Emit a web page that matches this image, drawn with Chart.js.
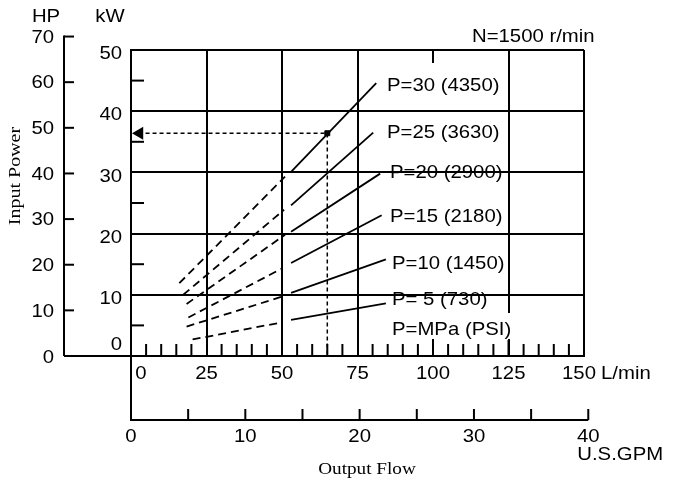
<!DOCTYPE html>
<html><head><meta charset="utf-8">
<script src="https://cdn.jsdelivr.net/npm/chart.js@4"></script>
<style>html,body{margin:0;padding:0;background:#fff}</style>
</head><body>
<canvas id="c" width="676" height="481" style="display:block"></canvas>
<script>
// ---- data ----
const pressureLabels = ['P=30 (4350)','P=25 (3630)','P=20 (2900)','P=15 (2180)','P=10 (1450)','P= 5 (730)'];
const unitLabel = 'P=MPa (PSI)';
const dashedFlow  = [[16,51],[17.3,50.7],[18.4,51],[19,50],[18.4,50],[20.4,50]];
const dashedPower = [[11.9,29.3],[10.0,23.9],[8.5,19.8],[6.3,14.3],[4.8,9.7],[2.7,5.5]];
const solidFlow   = [[53,81.2],[53,80.2],[53,82.5],[53,83],[53,84.4],[53,84.4]];
const solidPower  = [[30.1,44.6],[24.6,36.5],[20.3,29.8],[15.2,23.0],[10.3,15.8],[5.9,8.6]];
const operatingFlow = 65;
const operatingPower = 36.4;
const flowTicks  = [0,25,50,75,100,125,150];
const powerTicks = [0,10,20,30,40,50];
const hpTicks    = [0,10,20,30,40,50,60,70];
const gpmTicks   = [0,5,10,15,20,25,30,35,40];
const gpmLabels  = [0,10,20,30,40];
const HP_TO_KW = 0.7457;
const GPM_TO_LPM = 3.7854;

// ---- datasets ----
const datasets = [];
for (let i = 0; i < pressureLabels.length; i++) {
  datasets.push({
    data: dashedFlow[i].map((f, k) => ({x: f, y: dashedPower[i][k]})),
    borderColor: '#000', borderWidth: 1.8, borderDash: [8, 5], pointRadius: 0, showLine: true
  });
  datasets.push({
    data: solidFlow[i].map((f, k) => ({x: f, y: solidPower[i][k]})),
    borderColor: '#000', borderWidth: 1.8, pointRadius: 0, showLine: true
  });
}
datasets.push({
  data: [{x: 2.5, y: operatingPower}, {x: operatingFlow, y: operatingPower}, {x: operatingFlow, y: 0}],
  borderColor: '#000', borderWidth: 1.5, borderDash: [4, 3], pointRadius: 0, showLine: true
});
datasets.push({
  data: [{x: operatingFlow, y: operatingPower}],
  pointStyle: 'rect', pointRadius: 3.5, backgroundColor: '#000', borderColor: '#000', showLine: false
});
datasets.push({
  data: [{x: 2.8, y: operatingPower}],
  pointStyle: 'triangle', rotation: -90, pointRadius: 5, borderWidth: 2.5, backgroundColor: '#000', borderColor: '#000', showLine: false
});

const SANS = '"Liberation Sans", Arial, sans-serif';
const SERIF = '"Liberation Serif", "Times New Roman", serif';

const extras = {
  id: 'extras',
  afterDraw(chart) {
    const {ctx, scales: {x, y}} = chart;
    ctx.save();
    ctx.strokeStyle = '#000';
    ctx.fillStyle = '#000';
    ctx.lineWidth = 2;
    const line = (x1, y1, x2, y2) => { ctx.beginPath(); ctx.moveTo(x1, y1); ctx.lineTo(x2, y2); ctx.stroke(); };
    const text = (s, px, py, align, font, sx) => {
      ctx.save();
      ctx.translate(px, py);
      ctx.scale(sx || 1.07, 1);
      ctx.font = font || ('19px ' + SANS);
      ctx.textAlign = align || 'center';
      ctx.textBaseline = 'middle';
      ctx.fillText(s, 0, 0);
      ctx.restore();
    };
    const y0 = y.getPixelForValue(0);

    // HP axis
    const hpX = 64;
    line(hpX, y0, hpX, y.getPixelForValue(70 * HP_TO_KW) - 1);
    hpTicks.forEach(h => {
      const py = y.getPixelForValue(h * HP_TO_KW);
      if (h > 0) line(hpX, py, hpX + 10, py);
      text(String(h), 54, py + (h === 0 ? 2 : 1), 'right');
    });
    line(hpX, y0, x.left, y0);
    text('HP', 46, 17);
    text('kW', 110, 17);

    // kW labels and minor ticks
    powerTicks.forEach(v => {
      const py = y.getPixelForValue(v);
      text(String(v), 122, v === 0 ? py - 11 : py + 4, 'right');
    });
    for (let v = 5; v < 50; v += 10) {
      const py = y.getPixelForValue(v);
      line(x.left, py, x.left + 13, py);
    }

    // L/min minor ticks
    for (let v = 5; v < 150; v += 5) {
      if (v % 25 === 0) continue;
      const px = x.getPixelForValue(v);
      line(px, y0, px, y0 - 12);
    }
    const p100 = x.getPixelForValue(100);
    line(p100, y0, p100, y0 - 17);
    line(p100, y.top, p100, y.top + 13);

    // gap in 125 grid line behind unit label
    const p125 = x.getPixelForValue(125);
    ctx.fillStyle = '#fff';
    ctx.fillRect(p125 - 2, 313, 4, 26);
    ctx.fillStyle = '#000';
    line(p125, y0, p125, y0 - 16);

    // L/min labels
    flowTicks.forEach(v => {
      const px = x.getPixelForValue(v);
      if (v === 0) text('0', px + 10, 374);
      else if (v === 150) { text('150', px - 5, 374); text('L/min', px + 17, 374, 'left'); }
      else text(String(v), px, 374);
    });

    // U.S.GPM axis
    const gy = 420;
    const g40 = x.getPixelForValue(40 * GPM_TO_LPM);
    line(x.left, y0, x.left, gy + 1);
    line(x.left, gy, g40, gy);
    gpmTicks.forEach(g => {
      const px = x.getPixelForValue(g * GPM_TO_LPM);
      if (g > 0) line(px, gy, px, gy - 11);
    });
    gpmLabels.forEach(g => {
      const px = x.getPixelForValue(g * GPM_TO_LPM);
      text(String(g), px, 437);
    });
    text('U.S.GPM', g40 - 11, 455, 'left');

    // pressure labels
    const lx = [387, 387, 390, 390, 392, 392];
    const ly = [86, 133, 173, 217, 264, 300];
    pressureLabels.forEach((s, i) => text(s, lx[i], ly[i], 'left'));
    text(unitLabel, 392, 330, 'left');
    text('N=1500 r/min', 472, 37, 'left');

    // axis titles (serif, stretched)
    text('Output Flow', 367, 470, 'center', '16px ' + SERIF, 1.2);
    ctx.save();
    ctx.translate(16, 176);
    ctx.rotate(-Math.PI / 2);
    text('Input Power', 0, 0, 'center', '16px ' + SERIF, 1.25);
    ctx.restore();

    ctx.restore();
  }
};

new Chart(document.getElementById('c'), {
  type: 'line',
  data: { datasets },
  options: {
    responsive: false,
    animation: false,
    events: [],
    layout: { padding: { left: 131, top: 50, right: 92, bottom: 125 } },
    plugins: { legend: { display: false }, tooltip: { enabled: false } },
    scales: {
      x: {
        type: 'linear', min: 0, max: 150,
        ticks: { stepSize: 25, display: false },
        grid: { color: c => (c.tick && c.tick.value === 100) ? 'rgba(0,0,0,0)' : '#000', lineWidth: 2, drawTicks: false },
        border: { display: true, color: '#000', width: 2 }
      },
      y: {
        type: 'linear', min: 0, max: 50,
        ticks: { stepSize: 10, display: false },
        grid: { color: '#000', lineWidth: 2, drawTicks: false },
        border: { display: true, color: '#000', width: 2 }
      }
    }
  },
  plugins: [extras]
});
</script>
</body></html>
